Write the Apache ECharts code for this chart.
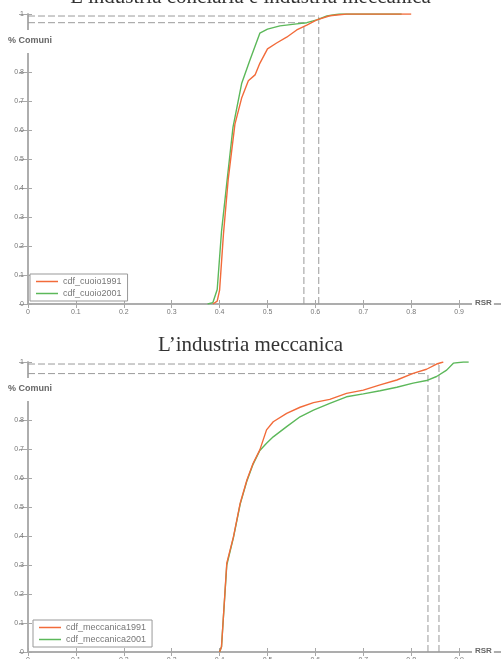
<!DOCTYPE html>
<html>
<head>
<meta charset="utf-8">
<script src="https://cdn.jsdelivr.net/npm/echarts@6/dist/echarts.min.js"></script>
<style>html,body{margin:0;padding:0;background:#fff;}#c{width:501px;height:659px;}</style>
</head>
<body>
<div id="c"></div>
<script>
// ---- Data ----
const titles = ["L\u2019industria conciaria e industria meccanica", "L\u2019industria meccanica"];
const seriesNames = [["cdf_cuoio1991", "cdf_cuoio2001"], ["cdf_meccanica1991", "cdf_meccanica2001"]];

const cuoio1991_x = [0.386, 0.395, 0.400, 0.408, 0.418, 0.432, 0.446, 0.460, 0.474, 0.484, 0.500, 0.519, 0.540, 0.561, 0.582, 0.603, 0.630, 0.665, 0.800];
const cuoio1991_y = [0, 0.010, 0.048, 0.240, 0.430, 0.620, 0.710, 0.770, 0.790, 0.830, 0.880, 0.900, 0.920, 0.945, 0.962, 0.980, 0.994, 1, 1];
const cuoio2001_x = [0.375, 0.386, 0.395, 0.404, 0.415, 0.428, 0.446, 0.463, 0.484, 0.500, 0.526, 0.561, 0.582, 0.603, 0.624, 0.650, 0.780];
const cuoio2001_y = [0, 0.005, 0.050, 0.250, 0.417, 0.610, 0.760, 0.840, 0.934, 0.948, 0.959, 0.966, 0.970, 0.980, 0.993, 1, 1];

const mecc1991_x = [0.400, 0.404, 0.415, 0.429, 0.443, 0.457, 0.470, 0.484, 0.498, 0.512, 0.540, 0.568, 0.596, 0.630, 0.665, 0.700, 0.735, 0.770, 0.804, 0.832, 0.853, 0.867];
const mecc1991_y = [0, 0.018, 0.306, 0.398, 0.513, 0.593, 0.651, 0.697, 0.766, 0.794, 0.823, 0.844, 0.860, 0.871, 0.892, 0.903, 0.921, 0.938, 0.961, 0.975, 0.993, 1];
const mecc2001_x = [0.400, 0.404, 0.415, 0.429, 0.443, 0.457, 0.470, 0.484, 0.498, 0.512, 0.540, 0.568, 0.596, 0.630, 0.665, 0.700, 0.735, 0.770, 0.804, 0.832, 0.853, 0.874, 0.888, 0.909, 0.920];
const mecc2001_y = [0, 0.018, 0.300, 0.395, 0.510, 0.590, 0.648, 0.695, 0.720, 0.742, 0.777, 0.811, 0.834, 0.857, 0.880, 0.890, 0.901, 0.913, 0.927, 0.936, 0.950, 0.972, 0.996, 1, 1];

// reference (dashed) lines: x positions and y levels
const refX = [[0.576, 0.607], [0.835, 0.858]];
const refY = [[0.970, 0.993], [0.960, 0.993]];

const yTickLabels = ["0", "0.1", "0.2", "0.3", "0.4", "0.5", "0.6", "0.7", "0.8", "", "1"];
const xTickLabels = ["0", "0.1", "0.2", "0.3", "0.4", "0.5", "0.6", "0.7", "0.8", "0.9", ""];
const yName = "% Comuni";
const xName = "RSR";

// ---- Chart ----
const zip = (xs, ys) => xs.map((x, i) => [x, ys[i]]);
const curves = [
  [zip(cuoio1991_x, cuoio1991_y), zip(cuoio2001_x, cuoio2001_y)],
  [zip(mecc1991_x, mecc1991_y), zip(mecc2001_x, mecc2001_y)]
];
const colors = ["#f26b3a", "#5cb85a"];
const axisGray = "#a8a8a8";
const labelGray = "#777";

const gridTops = [14, 362];
const grids = gridTops.map(t => ({ left: 28, top: t, width: 479, height: 290, show: false,
  containLabel: false, outerBoundsMode: "none" }));

const xAxes = [], yAxes = [], series = [], legends = [], titleArr = [];
gridTops.forEach((t, g) => {
  const base = { type: "value", min: 0, max: 1, interval: 0.1, gridIndex: g, splitLine: { show: false },
    axisLine: { lineStyle: { color: axisGray, width: 1.5 } },
    axisTick: { inside: true, length: 4, lineStyle: { color: axisGray } } };
  xAxes.push(Object.assign({}, base, { position: "bottom",
    axisLabel: { fontSize: 7, color: labelGray, margin: 5, fontFamily: "Arial",
      formatter: (v) => xTickLabels[Math.round(v * 10)] } }));
  xAxes.push(Object.assign({}, base, { position: "top", axisLabel: { show: false } }));
  yAxes.push(Object.assign({}, base, { position: "left",
    axisLabel: { fontSize: 7, color: labelGray, margin: 4, fontFamily: "Arial",
      formatter: (v) => yTickLabels[Math.round(v * 10)] } }));
  yAxes.push(Object.assign({}, base, { position: "right", axisLabel: { show: false },
    axisTick: { inside: true, length: 9, lineStyle: { color: axisGray } } }));

  const xi = g * 2, yi = g * 2;
  // dashed reference lines
  const dashStyle = { color: "#9a9a9a", width: 1, type: [7, 3] };
  refX[g].forEach((rx, k) => {
    series.push({ type: "line", xAxisIndex: xi, yAxisIndex: yi, silent: true, symbol: "none",
      lineStyle: dashStyle, data: [[rx, 0], [rx, refY[g][k]]] });
    series.push({ type: "line", xAxisIndex: xi, yAxisIndex: yi, silent: true, symbol: "none",
      lineStyle: dashStyle, data: [[0, refY[g][k]], [rx, refY[g][k]]] });
  });
  // curves (green first, orange on top)
  [1, 0].forEach(k => {
    series.push({ name: seriesNames[g][k], type: "line", xAxisIndex: xi, yAxisIndex: yi, symbol: "none",
      lineStyle: { color: colors[k], width: 1.4 }, itemStyle: { color: colors[k] }, data: curves[g][k] });
  });

  legends.push({ data: seriesNames[g], orient: "vertical", left: g === 0 ? 30 : 33, top: g === 0 ? 274 : 620,
    icon: "rect", itemWidth: 22, itemHeight: 1.5, itemGap: 3, padding: [3, 6, 3, 6],
    borderColor: "#999", borderWidth: 1, backgroundColor: "#fff",
    textStyle: { fontSize: 9, color: labelGray, fontFamily: "Arial" } });

  titleArr.push({ text: yName, left: 6, top: t + 16, padding: [6, 2, 8, 2], backgroundColor: "#fff",
    textStyle: { fontSize: 9, fontWeight: "bold", color: "#666", fontFamily: "Arial" } });
  titleArr.push({ text: xName, left: 472, top: t + 284, padding: [1, 2, 1, 3], backgroundColor: "#fff",
    textStyle: { fontSize: 8, fontWeight: "bold", color: "#666", fontFamily: "Arial" } });
});
titleArr.push({ text: titles[0], left: "center", top: -13, padding: 0,
  textStyle: { fontFamily: "Liberation Serif", fontSize: 21, fontWeight: "normal", color: "#333" } });
titleArr.push({ text: titles[1], left: "center", top: 335, padding: 0,
  textStyle: { fontFamily: "Liberation Serif", fontSize: 21, fontWeight: "normal", color: "#333" } });

const chart = echarts.init(document.getElementById("c"), null, { renderer: "canvas" });
chart.setOption({
  animation: false,
  backgroundColor: "#fff",
  title: titleArr,
  legend: legends,
  grid: grids,
  xAxis: xAxes,
  yAxis: yAxes,
  series: series
});
</script>
</body>
</html>
